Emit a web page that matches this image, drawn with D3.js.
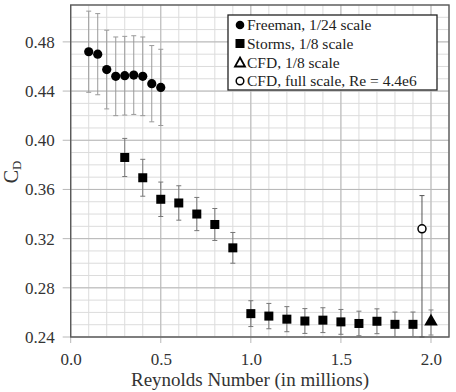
<!DOCTYPE html>
<html>
<head>
<meta charset="utf-8">
<script src="https://cdn.jsdelivr.net/npm/d3@7"></script>
<style>
  body { margin: 0; background: #fff; }
  svg { display: block; }
  svg text { font-family: 'Liberation Serif', 'Times New Roman', 'DejaVu Serif', serif; }
</style>
</head>
<body>
<svg id="chart" width="456" height="392"></svg>
<script>
// Freeman, 1/24 scale
const reFreeman = [0.10, 0.15, 0.20, 0.25, 0.30, 0.35, 0.40, 0.45, 0.50]
const cdFreeman = [0.472, 0.470, 0.4575, 0.452, 0.4525, 0.453, 0.452, 0.446, 0.443]
const errFreeman = [0.033, 0.033, 0.032, 0.032, 0.032, 0.032, 0.032, 0.031, 0.031]

// Storms, 1/8 scale
const reStorms = [0.3, 0.4, 0.5, 0.6, 0.7, 0.8, 0.9, 1.0, 1.1, 1.2, 1.3, 1.4, 1.5, 1.6, 1.7, 1.8, 1.9]
const cdStorms = [0.386, 0.3695, 0.352, 0.349, 0.340, 0.3315, 0.3125, 0.259, 0.257, 0.2545, 0.253, 0.2537, 0.2523, 0.251, 0.2528, 0.2503, 0.2503]
const errStorms = [0.0155, 0.015, 0.014, 0.014, 0.0135, 0.013, 0.0125, 0.0105, 0.0103, 0.0102, 0.0101, 0.0101, 0.0101, 0.010, 0.0101, 0.010, 0.010]

// CFD, 1/8 scale
const reCfd = [2.0]
const cdCfd = [0.2525]
const loCfd = [0.2416]
const hiCfd = [0.262]

// CFD, full scale
const reFull = [1.95]
const cdFull = [0.328]
const loFull = [0.24]
const hiFull = [0.355]

const xTicks = [0, 0.5, 1.0, 1.5, 2.0]
const yTicks = [0.24, 0.28, 0.32, 0.36, 0.40, 0.44, 0.48]
const legendLabels = ['Freeman, 1/24 scale', 'Storms, 1/8 scale', 'CFD, 1/8 scale', 'CFD, full scale, Re = 4.4e6']

let svg = d3.select('#chart')
let pl = 70.7, pr = 449, pt = 5, pb = 337
let serif = "'Liberation Serif', 'Times New Roman', 'DejaVu Serif', serif"

let x = d3.scaleLinear().domain([0, 2.1]).range([pl, pr])
let y = d3.scaleLinear().domain([0.24, 0.51]).range([pb, pt])

// grid
let g = svg.append('g')
g.selectAll('.vminor').data(d3.range(0, 2.101, 0.1))
  .enter().append('line')
  .attr('x1', d => x(d)).attr('x2', d => x(d))
  .attr('y1', pt).attr('y2', pb)
  .attr('stroke', '#dcdcdc').attr('stroke-width', 1)
g.selectAll('.hminor').data(d3.range(0.24, 0.5101, 0.01))
  .enter().append('line')
  .attr('x1', pl).attr('x2', pr)
  .attr('y1', d => y(d)).attr('y2', d => y(d))
  .attr('stroke', '#dcdcdc').attr('stroke-width', 1)
g.selectAll('.vmajor').data(xTicks)
  .enter().append('line')
  .attr('x1', d => x(d)).attr('x2', d => x(d))
  .attr('y1', pt).attr('y2', pb + 6)
  .attr('stroke', '#b8b8b8').attr('stroke-width', 1)
g.selectAll('.hmajor').data(yTicks)
  .enter().append('line')
  .attr('x1', pl - 8).attr('x2', pr)
  .attr('y1', d => y(d)).attr('y2', d => y(d))
  .attr('stroke', '#b8b8b8').attr('stroke-width', 1)

// frame
svg.append('rect')
  .attr('x', pl).attr('y', pt)
  .attr('width', pr - pl).attr('height', pb - pt)
  .attr('fill', 'none').attr('stroke', '#5a5a5a').attr('stroke-width', 1.4)

// tick labels via axes
let xAxis = svg.append('g')
  .attr('transform', `translate(0,${pb})`)
  .call(d3.axisBottom(x).tickValues(xTicks).tickFormat(d3.format('.1f')).tickSize(0).tickPadding(16))
let yAxis = svg.append('g')
  .attr('transform', `translate(${pl},0)`)
  .call(d3.axisLeft(y).tickValues(yTicks).tickFormat(d3.format('.2f')).tickSize(0).tickPadding(16))
for (let ax of [xAxis, yAxis]) {
  ax.attr('font-family', serif)
  ax.select('.domain').remove()
  ax.selectAll('text')
    .attr('font-size', 17)
    .attr('fill', '#333')
}
xAxis.selectAll('text').attr('dy', '0.71em')

svg.append('text')
  .attr('x', 250).attr('y', 386)
  .attr('text-anchor', 'middle')
  .attr('font-size', 19).attr('fill', '#333')
  .text('Reynolds Number (in millions)')

let yl = svg.append('text')
  .attr('transform', 'translate(18,172) rotate(-90)')
  .attr('text-anchor', 'middle')
  .attr('font-size', 20).attr('fill', '#333')
yl.append('tspan').text('C')
yl.append('tspan').attr('font-size', 13).attr('dy', 3).text('D')

// error bars
function errorBars (xs, los, his, color, cap) {
  let eg = svg.append('g').attr('stroke', color).attr('stroke-width', 1)
  xs.forEach((d, i) => {
    eg.append('line').attr('x1', x(d)).attr('x2', x(d)).attr('y1', y(los[i])).attr('y2', y(his[i]))
    eg.append('line').attr('x1', x(d) - cap).attr('x2', x(d) + cap).attr('y1', y(los[i])).attr('y2', y(los[i]))
    eg.append('line').attr('x1', x(d) - cap).attr('x2', x(d) + cap).attr('y1', y(his[i])).attr('y2', y(his[i]))
  })
}
errorBars(reFreeman, cdFreeman.map((d, i) => d - errFreeman[i]), cdFreeman.map((d, i) => d + errFreeman[i]), '#9a9a9a', 2.5)
errorBars(reStorms, cdStorms.map((d, i) => d - errStorms[i]), cdStorms.map((d, i) => d + errStorms[i]), '#777', 2.5)
errorBars(reFull, loFull, hiFull, '#555', 2.5)
errorBars(reCfd, loCfd, hiCfd, '#888', 2.5)

// markers
svg.append('g').selectAll('circle').data(reFreeman)
  .enter().append('circle')
  .attr('cx', d => x(d)).attr('cy', (d, i) => y(cdFreeman[i]))
  .attr('r', 4.6).attr('fill', '#000')
svg.append('g').selectAll('rect').data(reStorms)
  .enter().append('rect')
  .attr('x', d => x(d) - 4.5).attr('y', (d, i) => y(cdStorms[i]) - 4.5)
  .attr('width', 9).attr('height', 9).attr('fill', '#000')
let tri = d3.symbol().type(d3.symbolTriangle).size(80)
svg.append('g').selectAll('path').data(reCfd)
  .enter().append('path')
  .attr('d', tri)
  .attr('transform', (d, i) => `translate(${x(d)},${y(cdCfd[i])})`)
  .attr('fill', '#000')
svg.append('g').selectAll('circle').data(reFull)
  .enter().append('circle')
  .attr('cx', d => x(d)).attr('cy', (d, i) => y(cdFull[i]))
  .attr('r', 4).attr('fill', '#fff').attr('stroke', '#000').attr('stroke-width', 1.5)

// legend
let lg = svg.append('g')
lg.append('rect').attr('x', 228).attr('y', 15).attr('width', 209).attr('height', 75)
  .attr('fill', '#fff').attr('stroke', '#222').attr('stroke-width', 1.3)
let rows = [25, 43.5, 62.5, 81]
lg.selectAll('text').data(legendLabels)
  .enter().append('text')
  .attr('x', 247).attr('y', (d, i) => rows[i])
  .attr('dy', '0.35em')
  .attr('font-size', 15.5).attr('fill', '#222')
  .text(d => d)
lg.append('circle').attr('cx', 240).attr('cy', rows[0]).attr('r', 4.3).attr('fill', '#000')
lg.append('rect').attr('x', 235.5).attr('y', rows[1] - 4.5).attr('width', 9).attr('height', 9).attr('fill', '#000')
lg.append('path').attr('d', 'M240,' + (rows[2] - 5) + 'L245,' + (rows[2] + 4) + 'L235,' + (rows[2] + 4) + 'Z')
  .attr('fill', 'none').attr('stroke', '#000').attr('stroke-width', 1.8)
lg.append('circle').attr('cx', 240).attr('cy', rows[3]).attr('r', 3.8)
  .attr('fill', 'none').attr('stroke', '#000').attr('stroke-width', 1.5)
</script>
</body>
</html>
